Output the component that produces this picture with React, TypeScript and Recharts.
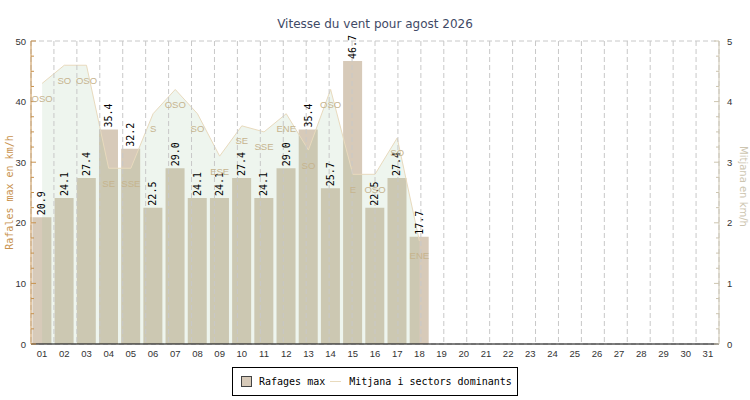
import { Area, Bar, CartesianGrid, ComposedChart, LabelList, XAxis, YAxis } from 'recharts';

const days = [
  '01', '02', '03', '04', '05', '06', '07', '08', '09', '10', '11', '12', '13', '14', '15', '16',
  '17', '18', '19', '20', '21', '22', '23', '24', '25', '26', '27', '28', '29', '30', '31',
];

// rafales max (km/h), left axis
const gusts: (number | null)[] = [
  20.9, 24.1, 27.4, 35.4, 32.2, 22.5, 29.0, 24.1, 24.1, 27.4, 24.1, 29.0, 35.4, 25.7, 46.7, 22.5,
  27.4, 17.7, null, null, null, null, null, null, null, null, null, null, null, null, null,
];

// mitjana (km/h), right axis
const means: (number | null)[] = [
  4.3, 4.6, 4.6, 2.9, 2.9, 3.8, 4.2, 3.8, 3.1, 3.6, 3.5, 3.8, 3.2, 4.2, 2.8, 2.8,
  3.4, 1.7, null, null, null, null, null, null, null, null, null, null, null, null, null,
];

const sectors = [
  'OSO', 'SO', 'OSO', 'SE', 'SSE', 'S', 'OSO', 'SO', 'ESE', 'SE', 'SSE', 'ENE', 'SO', 'OSO', 'E', 'OSO',
  'SO', 'ENE', '', '', '', '', '', '', '', '', '', '', '', '', '',
];

const leftTicks = [0, 2.5, 5, 7.5, 10, 12.5, 15, 17.5, 20, 22.5, 25, 27.5, 30, 32.5, 35, 37.5, 40, 42.5, 45, 47.5, 50];
const rightTicks = [0, 0.25, 0.5, 0.75, 1, 1.25, 1.5, 1.75, 2, 2.25, 2.5, 2.75, 3, 3.25, 3.5, 3.75, 4, 4.25, 4.5, 4.75, 5];
const gridTicks = [10, 20, 30, 40, 50];
const dayEdges = days.slice(1).map((_, i) => i + 1);

const data = days.map((day, i) => ({
  day,
  gust: gusts[i],
  mean: means[i],
  sector: sectors[i],
}));

const LEFT_COLOR = '#c8924e';
const RIGHT_COLOR = '#cdc5b0';
const BAR_COLOR = '#d7cab9';
const LINE_COLOR = '#e8dabd';
const SECTOR_COLOR = '#c6b48e';

function EdgeTick({ x, y }: any) {
  return <line x1={x} x2={x} y1={y} y2={y - 5} stroke="#000" />;
}

function DayTick({ x, y, payload }: any) {
  return (
    <text x={x} y={y + 9} textAnchor="middle" dominantBaseline="central" fontSize={9.5} fontFamily="Liberation Sans" fill="#333">
      {payload.value}
    </text>
  );
}

function LeftTick({ x, y, payload }: any) {
  const major = payload.value % 10 === 0;
  return (
    <g>
      <line x1={x} x2={x + (major ? 5 : 3)} y1={y} y2={y} stroke={LEFT_COLOR} />
      {major && (
        <text x={x - 5} y={y} textAnchor="end" dominantBaseline="central" fontSize={9.5} fontFamily="Liberation Sans" fill="#333">
          {payload.value}
        </text>
      )}
    </g>
  );
}

function RightTick({ x, y, payload }: any) {
  const major = Number.isInteger(payload.value);
  return (
    <g>
      <line x1={x} x2={x - (major ? 5 : 3)} y1={y} y2={y} stroke={RIGHT_COLOR} />
      {major && (
        <text x={x + 8} y={y} textAnchor="start" dominantBaseline="central" fontSize={9.5} fontFamily="Liberation Sans" fill="#333">
          {payload.value}
        </text>
      )}
    </g>
  );
}

function GustLabel({ x, y, width, value }: any) {
  if (value == null) return null;
  const cx = x + width / 2;
  const ty = y - 2;
  return (
    <text
      x={cx}
      y={ty}
      transform={`rotate(-90 ${cx} ${ty})`}
      textAnchor="start"
      dominantBaseline="central"
      fontSize={10}
      fontFamily="DejaVu Sans Mono"
      fill="#000"
    >
      {Number(value).toFixed(1)}
    </text>
  );
}

function SectorLabel({ x, y, value }: any) {
  if (!value || y == null) return null;
  return (
    <text x={x} y={y + 15} textAnchor="middle" dominantBaseline="central" fontSize={9.5} fontFamily="Liberation Sans" fill={SECTOR_COLOR}>
      {value}
    </text>
  );
}

function LeftTitle({ viewBox }: any) {
  const cx = viewBox.x + 9;
  const cy = viewBox.y + viewBox.height / 2;
  return (
    <text x={cx} y={cy} transform={`rotate(-90 ${cx} ${cy})`} textAnchor="middle" dominantBaseline="central" fontSize={10} fontFamily="DejaVu Sans Mono" fill={LEFT_COLOR}>
      Rafales max en km/h
    </text>
  );
}

function RightTitle({ viewBox }: any) {
  const cx = viewBox.x + 24;
  const cy = viewBox.y + viewBox.height / 2 - 6;
  return (
    <text x={cx} y={cy} transform={`rotate(90 ${cx} ${cy})`} textAnchor="middle" dominantBaseline="central" fontSize={10} fontFamily="DejaVu Sans" fill={RIGHT_COLOR}>
      Mitjana en km/h
    </text>
  );
}

export default function App() {
  return (
    <div style={{ position: 'absolute', left: 0, top: 0, width: 750, height: 400, background: '#fff' }}>
      <div
        style={{
          position: 'absolute',
          top: 16,
          left: 0,
          width: 750,
          textAlign: 'center',
          fontFamily: 'DejaVu Sans',
          fontSize: 12,
          lineHeight: '16px',
          color: '#3f4a66',
        }}
      >
        Vitesse du vent pour agost 2026
      </div>
      <ComposedChart
        width={750}
        height={400}
        data={data}
        margin={{ top: 41, right: 0, bottom: 36, left: 0 }}
        barCategoryGap={1.4}
      >
        <XAxis
          xAxisId="edge"
          type="number"
          domain={[0, 31]}
          ticks={dayEdges}
          allowDataOverflow
          height={0}
          axisLine={false}
          tickLine={false}
          tickSize={0}
          tickMargin={0}
          tick={EdgeTick}
          interval={0}
        />
        <XAxis
          xAxisId="cat"
          dataKey="day"
          height={20}
          axisLine={{ stroke: '#000' }}
          tickLine={false}
          tickSize={0}
          tickMargin={0}
          tick={DayTick}
          interval={0}
        />
        <YAxis
          yAxisId="left"
          domain={[0, 50]}
          ticks={leftTicks}
          width={31}
          axisLine={{ stroke: LEFT_COLOR }}
          tickLine={false}
          tickSize={0}
          tickMargin={0}
          tick={LeftTick}
          interval={0}
          label={LeftTitle}
        />
        <YAxis
          yAxisId="right"
          orientation="right"
          domain={[0, 5]}
          ticks={rightTicks}
          width={31}
          axisLine={{ stroke: RIGHT_COLOR }}
          tickLine={false}
          tickSize={0}
          tickMargin={0}
          tick={RightTick}
          interval={0}
          label={RightTitle}
        />
        <YAxis yAxisId="g" hide width={0} domain={[0, 50]} ticks={gridTicks} />
        <Bar xAxisId="cat" yAxisId="left" dataKey="gust" fill={BAR_COLOR} isAnimationActive={false}>
          <LabelList dataKey="gust" content={GustLabel} />
        </Bar>
        <Area
          xAxisId="cat"
          yAxisId="right"
          type="linear"
          dataKey="mean"
          stroke={LINE_COLOR}
          strokeWidth={1}
          fill="#8fbc8f"
          fillOpacity={0.15}
          dot={false}
          activeDot={false}
          isAnimationActive={false}
          zIndex={350}
        >
          <LabelList dataKey="sector" content={SectorLabel} />
        </Area>
        <CartesianGrid
          xAxisId="edge"
          yAxisId="g"
          stroke="#c8c8c8"
          strokeDasharray="5 3"
          zIndex={360}
        />
      </ComposedChart>
      <div
        style={{
          position: 'absolute',
          left: 232,
          top: 367,
          width: 284,
          height: 27,
          border: '1px solid #000',
          background: '#fff',
          display: 'flex',
          alignItems: 'center',
          fontFamily: 'DejaVu Sans Mono',
          fontSize: 10,
          color: '#000',
          boxSizing: 'content-box',
        }}
      >
        <span style={{ marginLeft: 8, width: 9, height: 9, background: BAR_COLOR, border: '1px solid #444' }} />
        <span style={{ marginLeft: 7 }}>Rafages max</span>
        <span style={{ marginLeft: 5, width: 11, height: 0, borderTop: `1px solid ${LINE_COLOR}` }} />
        <span style={{ marginLeft: 8 }}>Mitjana i sectors dominants</span>
      </div>
    </div>
  );
}
